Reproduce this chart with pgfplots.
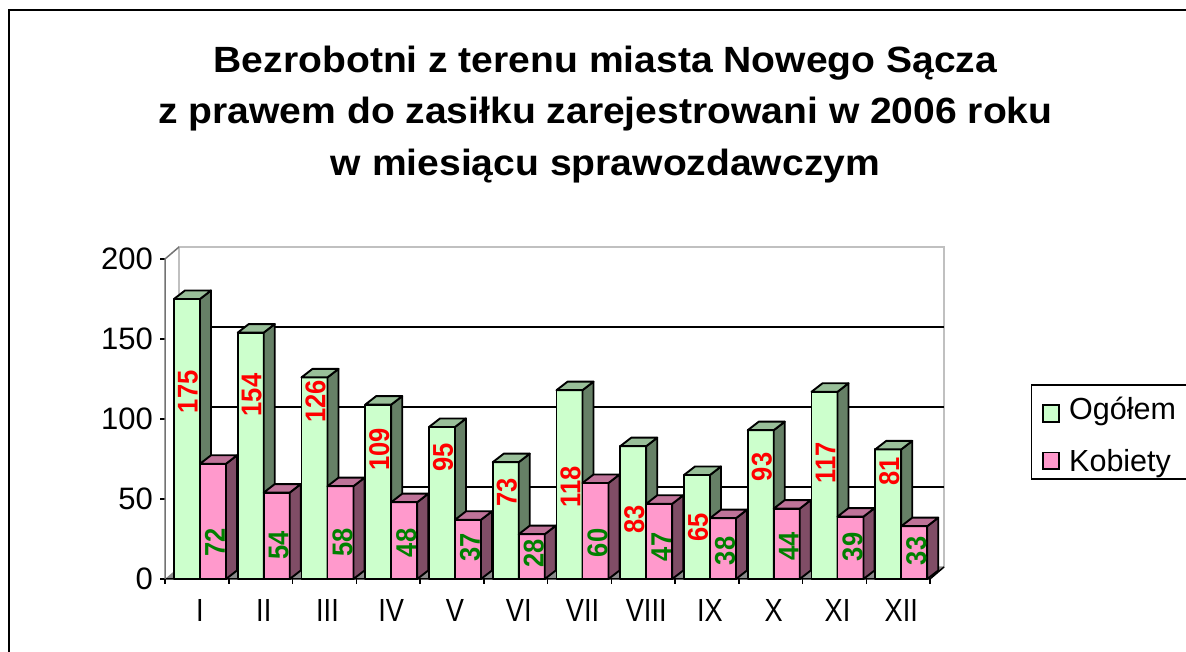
\documentclass[border=0pt]{standalone}
\usepackage{pgfplots}
\pgfplotsset{compat=1.18}
\usepackage{pgfplotstable}
\usepackage{fontspec}
\setmainfont{Liberation Sans}
\definecolor{gfront}{HTML}{CCFFCC}
\definecolor{gside}{HTML}{668066}
\definecolor{gtop}{HTML}{99BF99}
\definecolor{pfront}{HTML}{FF99CC}
\definecolor{pside}{HTML}{804D66}
\definecolor{ptop}{HTML}{BF7399}
\definecolor{floorgray}{HTML}{8C8C8C}
\definecolor{wallgray}{HTML}{C0C0C0}
\definecolor{lblgreen}{HTML}{008000}

\pgfplotstableread{
cat ogolem kobiety lo lk
1 175 72 117 23
2 154 54 115 21
3 126 58 111 23
4 109 48 81 22.5
5 95 37 76 19.5
6 73 28 54 16
7 118 60 57.5 22.5
8 83 47 37 20
9 65 38 32 17.5
10 93 44 70 20.5
11 117 39 72.5 20
12 81 33 67 17.5
}\data

\pgfdeclareplotmark{empty3d}{}

\newcommand\drawbar[4]{%
  \pgfmathsetlengthmacro\hh{\barval*1.6pt}%
  \begin{scope}[line width=1.9pt, line join=round, draw=black]
  \filldraw[fill=#2] (#1,-\hh) rectangle ({#1+26pt},0pt);
  \filldraw[fill=#3] ({#1+26pt},-\hh) -- ({#1+37pt},{8.5pt-\hh}) -- ({#1+37pt},8.5pt) -- ({#1+26pt},0pt) -- cycle;
  \filldraw[fill=#4] (#1,0pt) -- ({#1+26pt},0pt) -- ({#1+37pt},8.5pt) -- ({#1+11pt},8.5pt) -- cycle;
  \end{scope}}

\begin{document}
\begin{tikzpicture}
\useasboundingbox (0,0) rectangle (1186pt,652pt);
\clip (0,0) rectangle (1186pt,652pt);
\fill[white] (0,0) rectangle (1186pt,652pt);
\draw[black, line width=2.5pt] (9pt,-10pt) -- (9pt,642pt) -- (1200pt,642pt);

\node[anchor=base, xscale=1.07, font=\bfseries\fontsize{36.5}{36.5}\selectfont] at (605.5pt,579.3pt) {Bezrobotni z terenu miasta Nowego Sącza};
\node[anchor=base, xscale=1.07, font=\bfseries\fontsize{36.5}{36.5}\selectfont] at (605.5pt,528.7pt) {z prawem do zasiłku zarejestrowani w 2006 roku};
\node[anchor=base, xscale=1.07, font=\bfseries\fontsize{36.5}{36.5}\selectfont] at (605.5pt,476.3pt) {w miesiącu sprawozdawczym};

\begin{axis}[
  at={(165pt,73pt)}, anchor=south west,
  scale only axis, x=63.75pt, y=1.6pt,
  xmin=0.451, xmax=12.451, ymin=0, ymax=200,
  clip=false,
  axis line style={draw=none},
  tick pos=left, tick align=outside,
  major tick length=5pt, minor tick length=5pt,
  tick style={black, line width=1.5pt},
  ytick={0,50,100,150,200},
  xtick={1,2,3,4,5,6,7,8,9,10,11,12},
  xticklabels={I,II,III,IV,V,VI,VII,VIII,IX,X,XI,XII},
  minor xtick={0.451,1.451,2.451,3.451,4.451,5.451,6.451,7.451,8.451,9.451,10.451,11.451,12.451},
  every major x tick/.append style={draw=none},
  yticklabel style={font=\fontsize{31}{31}\selectfont, inner sep=0pt, xshift=-7pt},
  /pgf/number format/assume math mode=true,
  xticklabel style={font=\fontsize{32}{32}\selectfont, xscale=0.85, inner sep=0pt, yshift=-15pt},
]
% back wall
\draw[wallgray, line width=1.5pt] ([shift={(14pt,12pt)}]axis cs:0.451,0) rectangle ([shift={(14pt,12pt)}]axis cs:12.451,200);
\draw[black, line width=1.2pt] ([shift={(14pt,12pt)}]axis cs:0.451,50) -- ([shift={(14pt,12pt)}]axis cs:12.451,50);
\draw[black, line width=1.2pt] ([shift={(14pt,12pt)}]axis cs:0.451,100) -- ([shift={(14pt,12pt)}]axis cs:12.451,100);
\draw[black, line width=1.2pt] ([shift={(14pt,12pt)}]axis cs:0.451,150) -- ([shift={(14pt,12pt)}]axis cs:12.451,150);
% floor
\fill[floorgray] (axis cs:0.451,0) -- (axis cs:12.451,0) -- ([shift={(14pt,12pt)}]axis cs:12.451,0) -- ([shift={(14pt,12pt)}]axis cs:0.451,0) -- cycle;
\draw[black, line width=1.5pt] (axis cs:0.451,0) -- (axis cs:12.451,0) -- ([shift={(14pt,12pt)}]axis cs:12.451,0);
% left wall front edge
\draw[black!55, line width=1.5pt] (axis cs:0.451,0) -- (axis cs:0.451,200) -- ([shift={(14pt,12pt)}]axis cs:0.451,200);

\addplot[scatter, only marks, mark=empty3d, forget plot,
  visualization depends on={rawy \as \barval},
  scatter/@pre marker code/.code={\drawbar{-26pt}{gfront}{gside}{gtop}},
  scatter/@post marker code/.code={}]
  table[x=cat, y=ogolem] {\data};
\addplot[scatter, only marks, mark=empty3d, forget plot,
  visualization depends on={rawy \as \barval},
  scatter/@pre marker code/.code={\drawbar{0pt}{pfront}{pside}{ptop}},
  scatter/@post marker code/.code={}]
  table[x=cat, y=kobiety] {\data};

\addplot[only marks, mark=empty3d, forget plot, point meta=explicit symbolic,
  nodes near coords,
  every node near coord/.append style={xshift=-12pt, rotate=90, yscale=1.12, anchor=center, inner sep=0pt, text=red, font=\bfseries\fontsize{25.5}{25.5}\selectfont}]
  table[x=cat, y=lo, meta=ogolem] {\data};
\addplot[only marks, mark=empty3d, forget plot, point meta=explicit symbolic,
  nodes near coords,
  every node near coord/.append style={xshift=15pt, rotate=90, yscale=1.12, anchor=center, inner sep=0pt, text=lblgreen, font=\bfseries\fontsize{25.5}{25.5}\selectfont}]
  table[x=cat, y=lk, meta=kobiety] {\data};
\end{axis}

% legend
\draw[black, line width=1.5pt] (1031.7pt,267pt) rectangle (1215pt,173pt);
\filldraw[fill=gfront, draw=black, line width=1.5pt] (1043pt,230pt) rectangle (1059pt,247pt);
\filldraw[fill=pfront, draw=black, line width=1.5pt] (1043pt,183pt) rectangle (1059pt,199.3pt);
\node[anchor=base west, inner sep=0pt, font=\fontsize{30.5}{30.5}\selectfont] at (1069pt,232pt) {Ogółem};
\node[anchor=base west, inner sep=0pt, font=\fontsize{30.5}{30.5}\selectfont] at (1069pt,180.3pt) {Kobiety};
\end{tikzpicture}
\end{document}
